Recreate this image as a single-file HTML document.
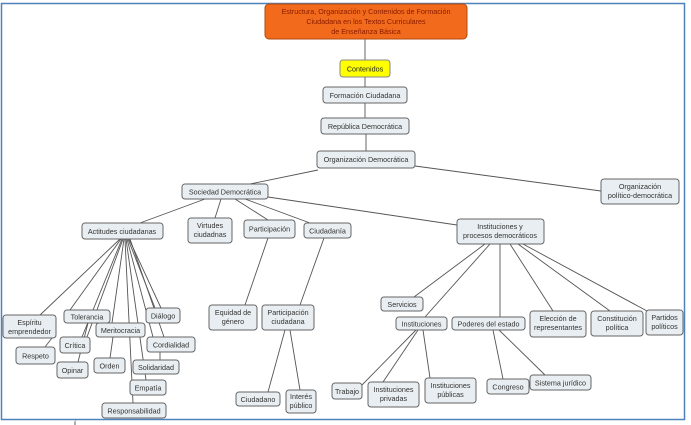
<!DOCTYPE html>
<html><head><meta charset="utf-8"><style>
html,body{margin:0;padding:0;background:#fff;width:691px;height:425px;overflow:hidden}
svg text{font-family:"Liberation Sans",sans-serif;font-size:7.2px;fill:#333;text-anchor:middle}
.n{fill:#e8eef1;stroke:#666;stroke-width:1}
.l{stroke:#555;stroke-width:0.9;fill:none}
</style></head><body>
<svg width="691" height="425" viewBox="0 0 691 425" xmlns="http://www.w3.org/2000/svg">
<rect x="1.5" y="3.5" width="683" height="416" fill="none" stroke="#4f81bd" stroke-width="1.5"/>
<g class="l">
<line x1="365" y1="39" x2="365" y2="60"/>
<line x1="365" y1="77" x2="365" y2="87"/>
<line x1="365" y1="103" x2="365" y2="118"/>
<line x1="366" y1="134" x2="366" y2="151"/>
<line x1="318" y1="170" x2="250" y2="184"/>
<line x1="415" y1="166" x2="601" y2="191"/>
<line x1="205" y1="199" x2="140" y2="223"/>
<line x1="221" y1="199" x2="215" y2="218"/>
<line x1="235" y1="199" x2="268" y2="220"/>
<line x1="245" y1="199" x2="310" y2="223"/>
<line x1="268" y1="197" x2="457" y2="225"/>
<line x1="120" y1="239" x2="40" y2="315"/>
<line x1="121" y1="239" x2="70" y2="310"/>
<line x1="122" y1="239" x2="82" y2="337"/>
<line x1="123" y1="239" x2="87" y2="337"/>
<line x1="124" y1="239" x2="112" y2="323"/>
<line x1="125" y1="239" x2="133" y2="403"/>
<line x1="126" y1="239" x2="146" y2="380"/>
<line x1="127" y1="239" x2="153" y2="337"/>
<line x1="128" y1="239" x2="155" y2="308"/>
<line x1="129" y1="239" x2="161" y2="308"/>
<line x1="130" y1="239" x2="164" y2="337"/>
<line x1="52" y1="338" x2="45" y2="347"/>
<line x1="88" y1="323" x2="78" y2="362"/>
<line x1="113" y1="337" x2="110" y2="358"/>
<line x1="160" y1="352" x2="160" y2="360"/>
<line x1="268" y1="238" x2="245" y2="305"/>
<line x1="324" y1="238" x2="300" y2="305"/>
<line x1="285" y1="330" x2="268" y2="392"/>
<line x1="290" y1="330" x2="300" y2="390"/>
<line x1="485" y1="244" x2="414" y2="297"/>
<line x1="490" y1="244" x2="425" y2="317"/>
<line x1="500" y1="244" x2="500" y2="317"/>
<line x1="510" y1="244" x2="553" y2="311"/>
<line x1="518" y1="244" x2="610" y2="311"/>
<line x1="523" y1="244" x2="647" y2="311"/>
<line x1="416" y1="330" x2="362" y2="385"/>
<line x1="418" y1="330" x2="383" y2="382"/>
<line x1="423" y1="330" x2="430" y2="378"/>
<line x1="493" y1="330" x2="503" y2="379"/>
<line x1="499" y1="330" x2="545" y2="375"/>
</g>
<rect x="265" y="4" width="202" height="35" rx="4" fill="#f26a1b" stroke="#b04a10"/>
<text x="366" y="14" style="fill:#8a1a00">Estructura, Organización y Contenidos de Formación</text>
<text x="366" y="24" style="fill:#8a1a00">Ciudadana en los Textos Curriculares</text>
<text x="366" y="34" style="fill:#8a1a00">de Enseñanza Básica</text>
<rect x="340" y="60" width="50" height="17" rx="3" fill="#ffff00" stroke="#888"/>
<text x="365" y="71.5" style="fill:#222">Contenidos</text>
<g>
<rect class="n" x="323" y="87" width="84" height="16" rx="3"/><text x="365" y="98">Formación Ciudadana</text>
<rect class="n" x="321" y="118" width="88" height="16" rx="3"/><text x="365" y="129">República Democrática</text>
<rect class="n" x="317" y="151" width="98" height="17" rx="3"/><text x="366" y="162">Organización Democrática</text>
<rect class="n" x="601" y="179" width="78" height="25" rx="3"/><text x="640" y="189">Organización</text><text x="640" y="198">político-democrática</text>
<rect class="n" x="182" y="184" width="86" height="15" rx="3"/><text x="225" y="194.5">Sociedad Democrática</text>
<rect class="n" x="82" y="223" width="81" height="16" rx="3"/><text x="122" y="234">Actitudes ciudadanas</text>
<rect class="n" x="188" y="218" width="44" height="25" rx="3"/><text x="210" y="228">Virtudes</text><text x="210" y="237">ciudadnas</text>
<rect class="n" x="244" y="220" width="51" height="18" rx="3"/><text x="269.5" y="231.5">Participación</text>
<rect class="n" x="304" y="223" width="47" height="15" rx="3"/><text x="327.5" y="233.5">Ciudadanía</text>
<rect class="n" x="457" y="219" width="87" height="25" rx="3"/><text x="500" y="229">Instituciones y</text><text x="500" y="238">procesos democráticos</text>
<rect class="n" x="3" y="315" width="53" height="23" rx="3"/><text x="29.5" y="325">Espíritu</text><text x="29.5" y="334">emprendedor</text>
<rect class="n" x="64" y="310" width="46" height="13" rx="3"/><text x="87" y="319.5">Tolerancia</text>
<rect class="n" x="146" y="308" width="34" height="15" rx="3"/><text x="163" y="318.5">Diálogo</text>
<rect class="n" x="96" y="323" width="49" height="14" rx="3"/><text x="120.5" y="333">Meritocracia</text>
<rect class="n" x="60" y="337" width="30" height="16" rx="3"/><text x="75" y="348">Crítica</text>
<rect class="n" x="147" y="337" width="48" height="15" rx="3"/><text x="171" y="347.5">Cordialidad</text>
<rect class="n" x="16" y="347" width="39" height="17" rx="3"/><text x="35.5" y="358.5">Respeto</text>
<rect class="n" x="57" y="362" width="31" height="16" rx="3"/><text x="72.5" y="373">Opinar</text>
<rect class="n" x="94" y="358" width="31" height="15" rx="3"/><text x="109.5" y="368.5">Orden</text>
<rect class="n" x="133" y="360" width="46" height="14" rx="3"/><text x="156" y="370">Solidaridad</text>
<rect class="n" x="130" y="380" width="36" height="15" rx="3"/><text x="148" y="390.5">Empatía</text>
<rect class="n" x="102" y="403" width="64" height="15" rx="3"/><text x="134" y="413.5">Responsabilidad</text>
<rect class="n" x="209" y="305" width="48" height="25" rx="3"/><text x="233" y="315">Equidad de</text><text x="233" y="324">género</text>
<rect class="n" x="262" y="305" width="52" height="25" rx="3"/><text x="288" y="315">Participación</text><text x="288" y="324">ciudadana</text>
<rect class="n" x="236" y="392" width="44" height="14" rx="3"/><text x="258" y="402">Ciudadano</text>
<rect class="n" x="286" y="390" width="30" height="23" rx="3"/><text x="301" y="399">Interés</text><text x="301" y="408">público</text>
<rect class="n" x="332" y="383" width="30" height="16" rx="3"/><text x="347" y="394">Trabajo</text>
<rect class="n" x="368" y="382" width="51" height="25" rx="3"/><text x="393.5" y="392">Instituciones</text><text x="393.5" y="401">privadas</text>
<rect class="n" x="425" y="378" width="51" height="25" rx="3"/><text x="450.5" y="388">Instituciones</text><text x="450.5" y="397">públicas</text>
<rect class="n" x="381" y="297" width="42" height="14" rx="3"/><text x="402" y="307">Servicios</text>
<rect class="n" x="396" y="317" width="51" height="13" rx="3"/><text x="421.5" y="326.5">Instituciones</text>
<rect class="n" x="452" y="317" width="73" height="13" rx="3"/><text x="488.5" y="326.5">Poderes del estado</text>
<rect class="n" x="530" y="311" width="56" height="26" rx="3"/><text x="558" y="321">Elección de</text><text x="558" y="330">representantes</text>
<rect class="n" x="591" y="311" width="52" height="25" rx="3"/><text x="617" y="321">Constitución</text><text x="617" y="330">política</text>
<rect class="n" x="646" y="310" width="37" height="25" rx="3"/><text x="664.5" y="320">Partidos</text><text x="664.5" y="329">políticos</text>
<rect class="n" x="487" y="379" width="42" height="15" rx="3"/><text x="508" y="389.5">Congreso</text>
<rect class="n" x="530" y="375" width="61" height="15" rx="3"/><text x="560.5" y="385.5">Sistema jurídico</text>
</g>
<text x="75" y="428" style="font-size:8px;fill:#222">Í</text>
</svg>
</body></html>
